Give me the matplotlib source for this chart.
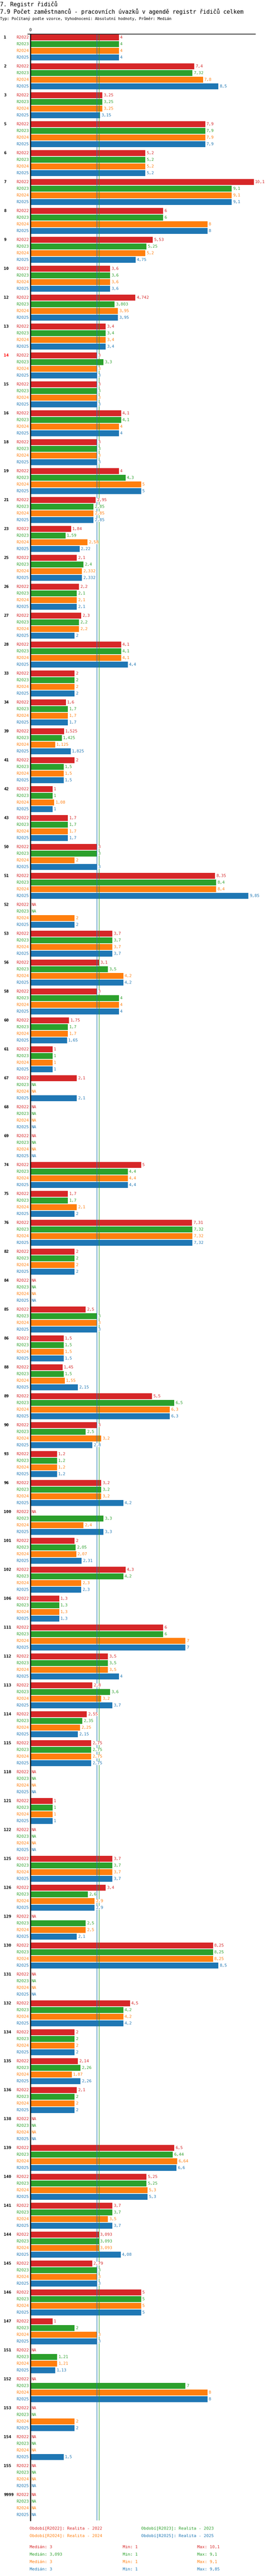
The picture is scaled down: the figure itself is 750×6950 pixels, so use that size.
import matplotlib
matplotlib.use("Agg")
import matplotlib.pyplot as plt
import numpy as np

NA = None
groups = ["1","2","3","5","6","7","8","9","10","12","13","14","15","16","18","19","21","23","25","26",
          "27","28","33","34","39","41","42","43","50","51","52","53","56","58","60","61","67","68","69","74",
          "75","76","82","84","85","86","88","89","90","93","96","100","101","102","106","111","112","113","114","115",
          "118","121","122","125","126","129","130","131","132","134","135","136","138","139","140","141","144","145","146","147",
          "151","152","153","154","155","9999"]
highlight = ["14"]
series = ["R2022", "R2023", "R2024", "R2025"]
colors = ["#d62728", "#2ca02c", "#ff7f0e", "#1f77b4"]

r2022 = [4,7.4,3.25,7.9,5.2,10.1,6,5.53,3.6,4.742,3.4,3,3,4.1,3,4,2.95,1.84,2.1,2.2,
         2.3,4.1,2,1.6,1.525,2,1,1.7,3,8.35,NA,3.7,3.1,3,1.75,1,2.1,NA,NA,5,
         1.7,7.31,2,NA,2.5,1.5,1.45,5.5,3,1.2,3.2,NA,2,4.3,1.3,6,3.5,2.8,2.55,2.75,
         NA,1,NA,3.7,3.4,NA,8.25,NA,4.5,2,2.14,2.1,NA,6.5,5.25,3.7,3.093,2.79,5,1,
         NA,NA,NA,NA,NA,NA]
r2023 = [4,7.32,3.25,7.9,5.2,9.1,6,5.25,3.6,3.803,3.4,3.3,3,4.1,3,4.3,2.85,1.59,2.4,2.1,
         2.2,4.1,2,1.7,1.425,1.5,1,1.7,3,8.4,NA,3.7,3.5,4,1.7,1,NA,NA,NA,4.4,
         1.7,7.32,2,NA,3,1.5,1.5,6.5,2.5,1.2,3.2,3.3,2.05,4.2,1.3,6,3.5,3.6,2.35,2.75,
         NA,1,NA,3.7,2.6,2.5,8.25,NA,4.2,2,2.26,2,NA,6.44,5.25,3.7,3.093,3,5,2,
         1.21,7,NA,NA,NA,NA]
r2024 = [4,7.8,3.25,7.9,5.2,9.1,8,5.2,3.6,3.95,3.4,3,3,4,3,5,2.85,2.58,2.332,2.1,
         2.2,4.1,2,1.7,1.125,1.5,1.08,1.7,2,8.4,2,3.7,4.2,4,1.7,1,NA,NA,NA,4.4,
         2.1,7.32,2,NA,3,1.5,1.55,6.3,3.2,1.2,3.2,2.4,2.07,2.3,1.3,7,3.5,3.2,2.25,2.75,
         NA,1,NA,3.7,2.9,2.5,8.25,NA,4.2,2,1.87,2,NA,6.64,5.3,3.5,3.093,3,5,3,
         1.21,8,2,NA,NA,NA]
r2025 = [4,8.5,3.15,7.9,5.2,9.1,8,4.75,3.6,3.95,3.4,3,3,4,3,5,2.85,2.22,2.332,2.1,
         2,4.4,2,1.7,1.825,1.5,1,1.7,3,9.85,2,3.7,4.2,4,1.65,1,2.1,NA,NA,4.4,
         2,7.32,2,NA,3,1.5,2.15,6.3,2.8,1.2,4.2,3.3,2.31,2.3,1.3,7,4,3.7,2.15,2.75,
         NA,1,NA,3.7,2.9,2.1,8.5,NA,4.2,2,2.26,2,NA,6.6,5.3,3.7,4.08,3,5,3,
         1.13,8,2,1.5,NA,NA]
data = [r2022, r2023, r2024, r2025]
period_names = ["Realita - 2022", "Realita - 2023", "Realita - 2024", "Realita - 2025"]
medians = [3, 3.093, 3, 3]
mins = [1, 1, 1, 1]
maxs = [10.1, 9.1, 9.1, 9.85]

def fmt(v):
    return f"{v:g}".replace(".", ",")

W, H = 750, 6950
fig = plt.figure(figsize=(W/100, H/100), dpi=100)
plt.rcParams['font.family'] = ['DejaVu Sans Mono']

x0, x1 = 82, 689
y0, y1 = 92, 6800
ppu = 59.7
ax = fig.add_axes([x0/W, 1-y1/H, (x1-x0)/W, (y1-y0)/H])
ax.set_xlim(0, (x1-x0)/ppu)
ax.set_ylim(y1, y0)
ax.axis("off")

fs = 8
for gi, g in enumerate(groups):
    base = 101 + 78*gi
    ax.text(-72/ppu, base, g, ha="left", va="center", fontsize=fs, fontweight="bold",
            color="red" if g in highlight else "black")
    for k in range(4):
        yc = base + 18*k
        v = data[k][gi]
        ax.text(-4/ppu, yc, series[k], ha="right", va="center", fontsize=fs, color=colors[k])
        if v is None:
            ax.text(2/ppu, yc, "NA", ha="left", va="center", fontsize=fs, color=colors[k])
        else:
            ax.barh(yc, v, height=16, color=colors[k], left=0)
            ax.text(v + 3/ppu, yc, fmt(v), ha="left", va="center", fontsize=fs, color=colors[k],
                    bbox=dict(facecolor="white", edgecolor="none", pad=0), zorder=5)

# median lines
ax.axvline(medians[3], color=colors[3], lw=1, zorder=1)
ax.axvline(medians[1], color=colors[1], lw=1, zorder=1)
# axes lines
ax.plot([0, 0], [y0, y1], color="black", lw=2, clip_on=False, zorder=6)
ax.plot([-7/ppu, (x1-x0)/ppu], [y0, y0], color="black", lw=1.2, clip_on=False, zorder=6)
ax.text(0, y0-6, "0", ha="center", va="bottom", fontsize=fs)

# titles
fig.text(0/W, 1-11/H, "7. Registr řidičů", fontsize=11, va="center", ha="left")
fig.text(0/W, 1-31/H, "7.9 Počet zaměstnanců - pracovních úvazků v agendě registr řidičů celkem",
         fontsize=11, va="center", ha="left")
fig.text(0/W, 1-51/H, "Typ: Počítaný podle vzorce, Vyhodnocení: Absolutní hodnoty, Průměr: Medián",
         fontsize=7.5, va="center", ha="left")

# legend
lx = [80, 381, 80, 381]
ly = [6822, 6822, 6842, 6842]
for k in range(4):
    fig.text(lx[k]/W, 1-ly[k]/H, f"Období[{series[k]}]: {period_names[k]}", fontsize=fs,
             color=colors[k], va="center", ha="left")
for k in range(4):
    yy = 1 - (6872 + 20*k)/H
    fig.text(80/W, yy, f"Medián: {fmt(medians[k])}", fontsize=fs, color=colors[k], va="center")
    fig.text(331/W, yy, f"Min: {fmt(mins[k])}", fontsize=fs, color=colors[k], va="center")
    fig.text(532/W, yy, f"Max: {fmt(maxs[k])}", fontsize=fs, color=colors[k], va="center")

fig.savefig("out.png", dpi=100, facecolor="white")
